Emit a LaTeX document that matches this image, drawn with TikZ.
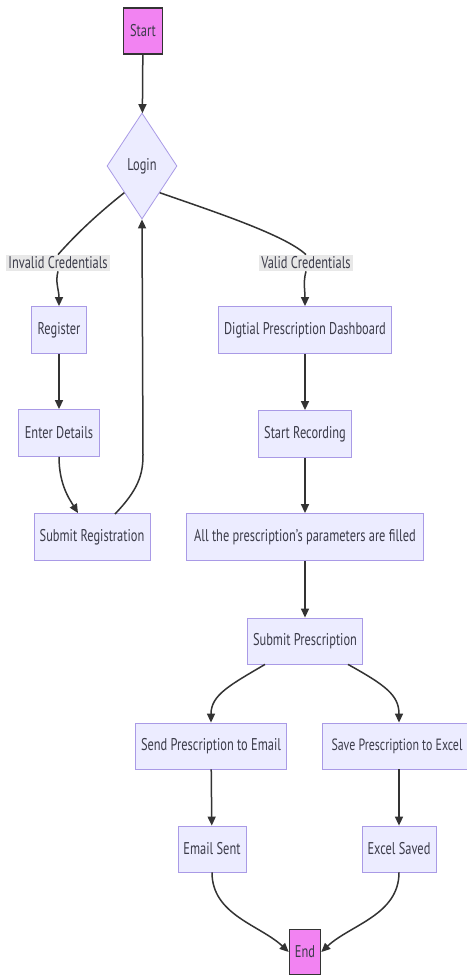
\documentclass[tikz,border=0pt]{standalone}
\usepackage{fontspec}
\setmainfont{PT Sans}[FakeStretch=0.73]
\usetikzlibrary{shapes.geometric,arrows.meta}
\definecolor{nodefill}{HTML}{ECECFF}
\definecolor{nodeborder}{HTML}{A99AE6}
\definecolor{termfill}{HTML}{F283F2}
\definecolor{ink}{HTML}{333333}
\definecolor{txt}{HTML}{3C3C4A}
\definecolor{lblbg}{HTML}{E8E8E8}
\tikzset{
  proc/.style={draw=nodeborder, fill=nodefill, line width=0.8pt, inner sep=0pt, text=txt, font=\fontsize{17}{19}\selectfont},
  term/.style={draw=ink, fill=termfill, line width=1.6pt, inner sep=0pt, text=txt, font=\fontsize{17}{19}\selectfont},
  dec/.style={diamond, draw=nodeborder, fill=nodefill, line width=0.8pt, inner sep=0pt, text=txt, font=\fontsize{17}{19}\selectfont, aspect=0.66, minimum width=70pt},
  lbl/.style={fill=lblbg, inner sep=2pt, text=txt, font=\fontsize{17}{19}\selectfont},
  edge/.style={draw=ink, line width=1.5pt, -{Triangle[length=9pt,width=8pt]}},
  plain/.style={draw=ink, line width=1.5pt},
}
\begin{document}
\begin{tikzpicture}[x=1pt,y=-1pt]
\useasboundingbox (0,0) rectangle (466,976);
\fill[white] (0,0) rectangle (466,976);
\node[term, minimum width=39pt, minimum height=46pt] (start) at (143,31) {Start};
\node[dec, minimum height=106pt] (login) at (142,166) {Login};
\node[lbl] (inv) at (58,263) {Invalid Credentials};
\node[lbl] (val) at (306,263) {Valid Credentials};
\node[proc, minimum width=55pt, minimum height=47pt] (reg) at (59,330) {Register};
\node[proc, minimum width=81pt, minimum height=47pt] (det) at (59,433) {Enter Details};
\node[proc, minimum width=116pt, minimum height=47pt] (sub) at (92,537) {Submit Registration};
\node[proc, minimum width=173pt, minimum height=47pt] (dash) at (305,330) {Digtial Prescription Dashboard};
\node[proc, minimum width=93pt, minimum height=47pt] (rec) at (305,434) {Start Recording};
\node[proc, minimum width=237pt, minimum height=47pt] (all) at (305,537) {All the prescription's parameters are filled};
\node[proc, minimum width=115pt, minimum height=46pt] (subp) at (305,641) {Submit Prescription};
\node[proc, minimum width=151pt, minimum height=46pt] (mail) at (211,746) {Send Prescription to Email};
\node[proc, minimum width=150pt, minimum height=46pt, font=\fontsize{16.3}{19}\selectfont] (xls) at (397,746) {Save Prescription to Excel};
\node[proc, minimum width=68pt, minimum height=46pt] (sent) at (212,849) {Email Sent};
\node[proc, minimum width=74pt, minimum height=46pt] (saved) at (399,849) {Excel Saved};
\node[term, minimum width=31pt, minimum height=45pt] (end) at (305,952) {End};
\coordinate (subtop) at (115,514);
\coordinate (upbend) at (143,455);
\draw[edge] (start) -- (login);
\draw[plain] (login.south west) .. controls (100,212) and (78,232) .. (inv.north);
\draw[edge] (inv.south) .. controls (55,282) and (59,290) .. (reg.north);
\draw[plain] (login.south east) .. controls (215,212) and (285,235) .. (val.north);
\draw[edge] (val.south) .. controls (303,282) and (305,290) .. (dash.north);
\draw[edge] (reg) -- (det);
\draw[edge] (det.south) .. controls (59,485) and (70,500) .. (sub.north west -| 78,0);
\draw[edge] (subtop) .. controls (138,490) and (143,475) .. (upbend) -- (login.south);
\draw[edge] (dash) -- (rec);
\draw[edge] (rec) -- (all);
\draw[edge] (all) -- (subp);
\draw[edge] (subp.south -| 265,0) .. controls (230,685) and (211,695) .. (mail.north);
\draw[edge] (subp.south -| 348,0) .. controls (385,685) and (399,695) .. (xls.north -| 399,0);
\draw[edge] (mail) -- (sent);
\draw[edge] (xls.south -| 399,0) -- (saved);
\draw[edge] (sent.south) .. controls (212,915) and (260,925) .. (end.west);
\draw[edge] (saved.south) .. controls (399,915) and (350,925) .. (end.east);
\end{tikzpicture}
\end{document}
